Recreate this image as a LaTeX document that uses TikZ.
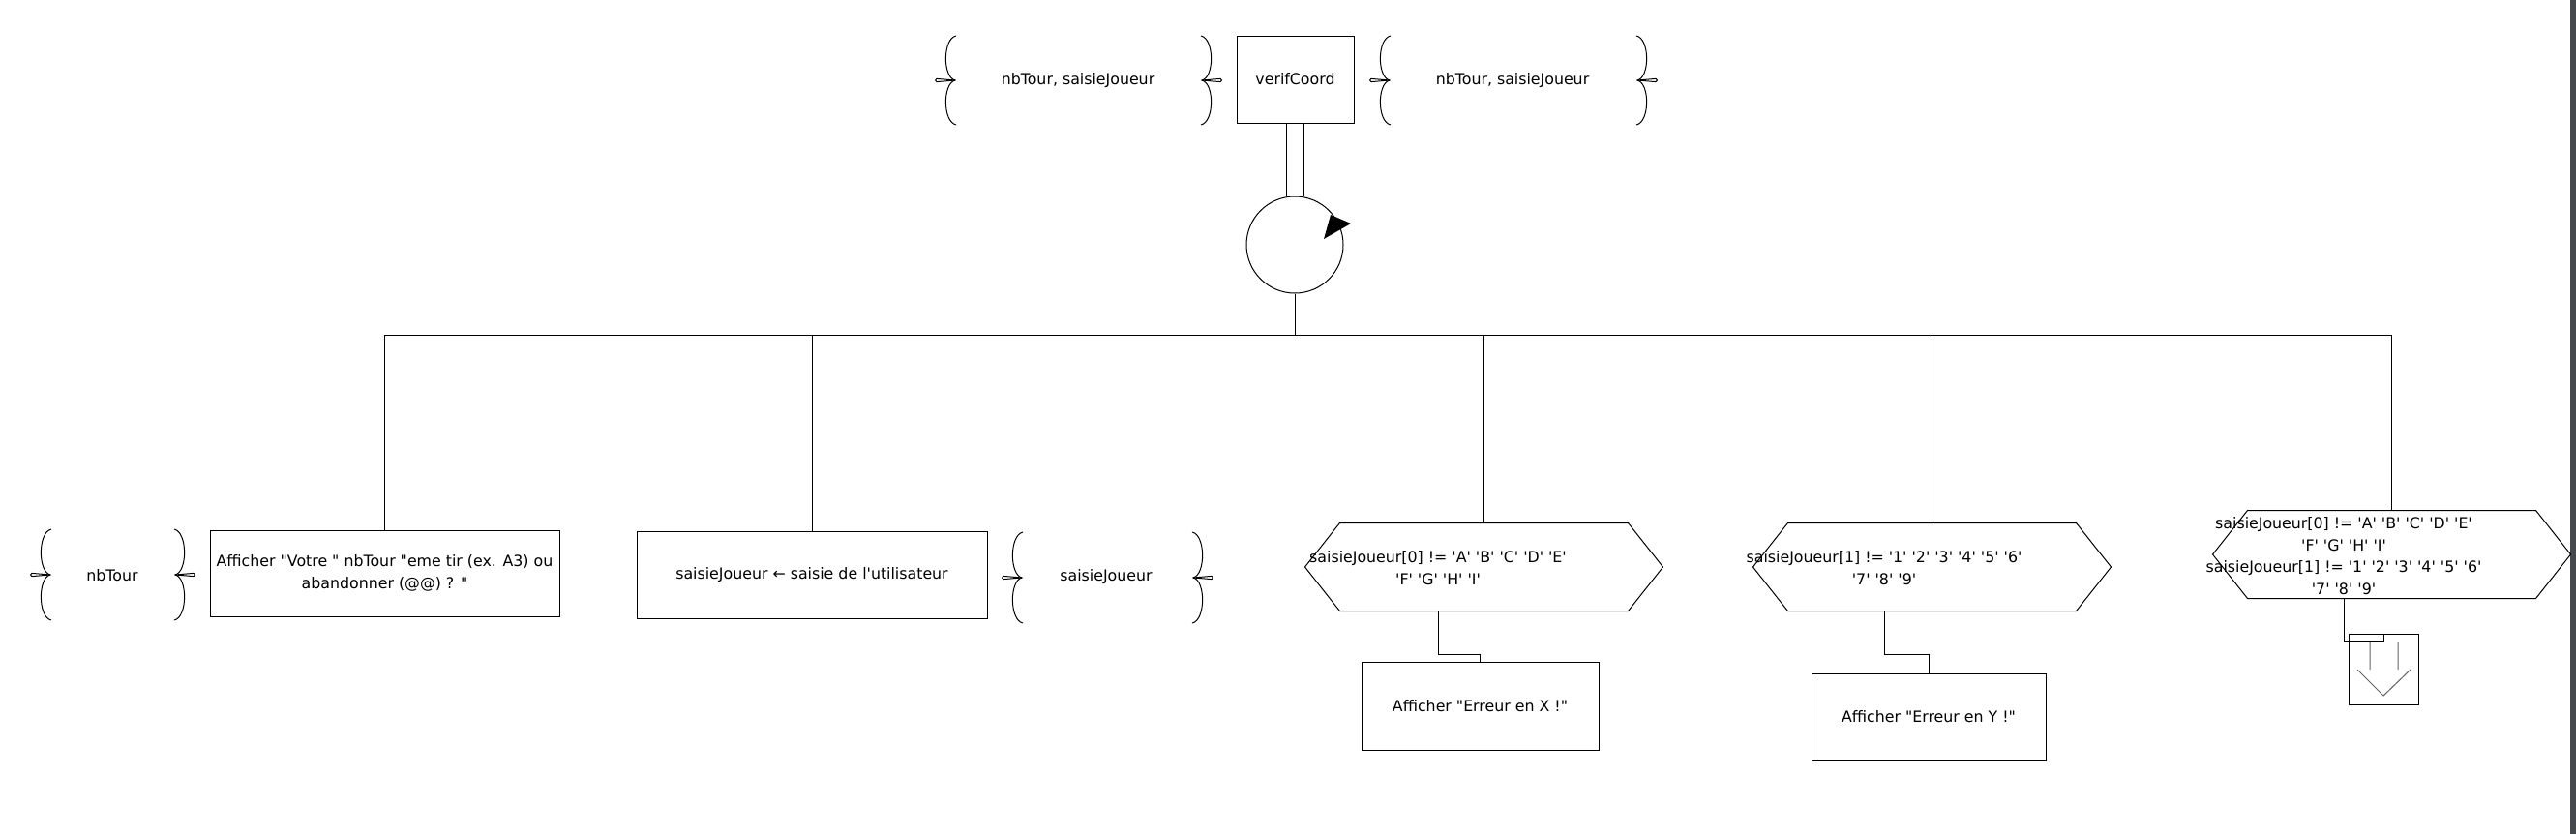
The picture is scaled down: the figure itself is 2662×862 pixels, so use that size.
\documentclass[tikz,border=0pt]{standalone}
\usepackage{fontspec}
\newfontfamily\dvs{DejaVu Sans}
\usetikzlibrary{calc}
\definecolor{edgebar}{RGB}{69,72,76}
\definecolor{symgray}{RGB}{100,100,100}
\newcommand\LBr[3]{%
  \draw (#1+1,#2-#3) .. controls (#1-13,#2-#3+3) and (#1-13,#2-3) .. (#1,#2)
        .. controls (#1-13,#2+3) and (#1-13,#2+#3-3) .. (#1+1,#2+#3);
  \draw (#1,#2) -- (#1-19,#2-1.6) .. controls (#1-21,#2) .. (#1-19,#2+1.6) -- cycle;
}
\newcommand\RBr[3]{%
  \draw (#1-1,#2-#3) .. controls (#1+13,#2-#3+3) and (#1+13,#2-3) .. (#1,#2)
        .. controls (#1+13,#2+3) and (#1+13,#2+#3-3) .. (#1-1,#2+#3);
  \draw (#1,#2) -- (#1+19,#2-1.6) .. controls (#1+21,#2) .. (#1+19,#2+1.6) -- cycle;
}
\newcommand\Hexa[1]{%
  \draw (#1.west) -- ([xshift=36pt]#1.north west) -- ([xshift=-36pt]#1.north east)
     -- (#1.east) -- ([xshift=-36pt]#1.south east) -- ([xshift=36pt]#1.south west) -- cycle;
}
\begin{document}
\begin{tikzpicture}[x=1pt,y=-1pt,line width=1pt,
  every node/.style={font=\dvs\fontsize{15.8}{22.5}\selectfont, inner sep=0pt},
  box/.style={draw, rectangle, align=center},
  hexn/.style={rectangle, minimum width=369pt, minimum height=90pt},
  txt/.style={align=center}]
\useasboundingbox (0,0) rectangle (2662,862);
\fill[white] (0,0) rectangle (2662,862);
\fill[edgebar] (2656,0) rectangle (2662,862);

% top: module and parameters
\node[box, minimum width=121pt, minimum height=90pt] (verif) at (1338.5,82) {verifCoord};
\node[txt] (inpar) at (1114,83) {nbTour, saisieJoueur};
\node[txt] (outpar) at (1563,83) {nbTour, saisieJoueur};
\LBr{987}{83}{46}
\RBr{1242}{83}{46}
\LBr{1436}{83}{46}
\RBr{1692}{83}{46}

% loop
\node[draw, circle, minimum size=100pt] (loop) at (1338,253) {};
\fill (1375,222) -- (1396,231) -- (1368,247) -- cycle;
\draw[double distance=17pt] (loop.north |- verif.south) -- (loop.north);

\coordinate (bar) at (1338,346);
\draw (loop.south) -- (bar);

% children
\node[box, minimum width=361pt, minimum height=89pt] (box1) at (397.5,592.5)
  {Afficher "Votre " nbTour "eme tir (ex. A3) ou\\abandonner (@@) ? "};
\node[txt] (par1) at (116,595) {nbTour};
\LBr{52}{594}{47}
\RBr{181}{594}{47}

\node[box, minimum width=362pt, minimum height=90pt] (box2) at (839,594)
  {saisieJoueur ← saisie de l'utilisateur};
\node[txt] (par2) at (1143,596) {saisieJoueur};
\LBr{1056}{597}{47}
\RBr{1233}{597}{47}

\node[hexn] (hex1) at (1533.5,586) {};
\Hexa{hex1}
\node[txt] (hex1t) at (1486,587) {saisieJoueur[0] != 'A' 'B' 'C' 'D' 'E'\\'F' 'G' 'H' 'I'};
\node[box, minimum width=245pt, minimum height=91pt] (boxX) at (1529.5,729.5) {Afficher "Erreur en X !"};

\node[hexn] (hex2) at (1996.5,586) {};
\Hexa{hex2}
\node[txt] (hex2t) at (1947,587) {saisieJoueur[1] != '1' '2' '3' '4' '5' '6'\\'7' '8' '9'};
\node[box, minimum width=242pt, minimum height=90pt] (boxY) at (1993,741) {Afficher "Erreur en Y !"};

\node[hexn] (hex3) at (2471.5,573) {};
\Hexa{hex3}
\node[txt] (hex3t) at (2422,574.5) {saisieJoueur[0] != 'A' 'B' 'C' 'D' 'E'\\'F' 'G' 'H' 'I'\\saisieJoueur[1] != '1' '2' '3' '4' '5' '6'\\'7' '8' '9'};
\node[box, minimum width=72pt, minimum height=73pt] (endbox) at (2463,691.5) {};
\draw[symgray] (2449,664) -- (2449,692) (2478,664) -- (2478,692)
  (2436,692) -- (2463,719) -- (2491,692);

% connectors
\draw (bar) -| (box1.north);
\draw (bar) -| (box2.north);
\draw (bar) -| (hex1.north);
\draw (bar) -| (hex2.north);
\draw (bar) -| (hex3.north);
\draw (hex1t |- hex1.south) -- ++(0,45) -| (boxX.north);
\draw (hex2t |- hex2.south) -- ++(0,45) -| (boxY.north);
\draw (hex3t |- hex3.south) -- ++(0,45) -| (endbox.north);
\end{tikzpicture}
\end{document}
